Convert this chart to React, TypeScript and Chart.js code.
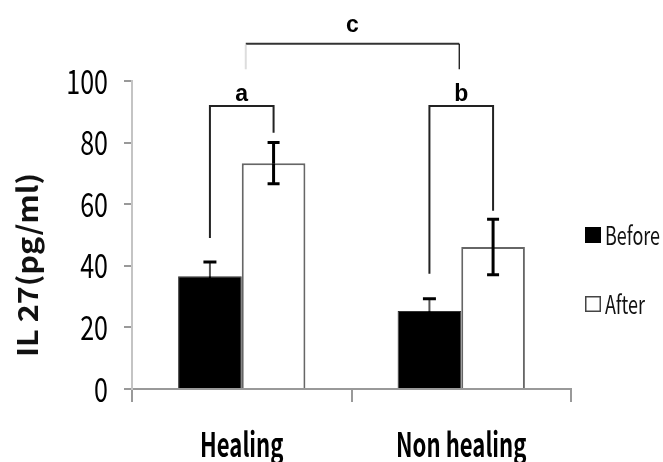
import React, { useEffect, useRef } from 'react';
import { Chart, registerables } from 'chart.js';
import { renderText } from 'chart.js/helpers';

Chart.register(...registerables);

// ---- data ----
const categories = ['Healing', 'Non healing'];
const seriesNames = ['Before', 'After'];
const beforeValues = [36.6, 25.3];
const afterValues = [73.3, 46.1];
const beforeErrors = [4.6, 4.0];
const afterErrors = [6.7, 9.0];
const yTicks = [0, 20, 40, 60, 80, 100];
const yTitle = 'IL 27(pg/ml)';
// significance brackets (a: Healing before vs after, b: Non healing before vs after, c: Healing vs Non healing)
const bracketLabels = ['a', 'b', 'c'];
const bracketLevels = [91.9, 91.9, 112.1];
const bracketLeftEnds = [49.0, 37.4, 103.8];
const bracketRightEnds = [83.2, 57.9, 103.8];
const bracketLabelLevels = [93.5, 93.5, 115.8];

const NARROW = '"Noto Sans CJK SC", "Liberation Sans", "DejaVu Sans Condensed", sans-serif';
const WIDE = '"Liberation Sans", "DejaVu Sans", sans-serif';

// draw the axis' own tick labels horizontally condensed (the original uses a narrow face)
const squeezeLabels = (axis: any, sx: number) => {
  if (axis.__squeezed) return;
  axis.__squeezed = true;
  axis.drawLabels = function (area: any) {
    if (!this.options.ticks.display) return;
    const ctx = this.ctx as CanvasRenderingContext2D;
    const items = this.getLabelItems(area);
    for (const item of items) {
      const opts = item.options;
      const [tx, ty] = opts.translation;
      ctx.save();
      ctx.translate(tx, ty);
      ctx.scale(sx, 1);
      renderText(ctx, item.label, 0, item.textOffset, item.font, { ...opts, translation: [0, 0] });
      ctx.restore();
    }
  };
};

const overlayPlugin = {
  id: 'overlay',
  afterDatasetsDraw(chart: any) {
    const ctx = chart.ctx as CanvasRenderingContext2D;
    const ys = chart.scales.y;
    const xs = chart.scales.x;
    const m0 = chart.getDatasetMeta(0);
    const m1 = chart.getDatasetMeta(1);

    const drawErr = (meta: any, values: number[], errs: number[], lineColor: string, lineW: number, capW: number) => {
      values.forEach((v, i) => {
        const el = meta.data[i];
        const x = el.x;
        const yTop = ys.getPixelForValue(v + errs[i]);
        const yMid = ys.getPixelForValue(v);
        const yBot = ys.getPixelForValue(v - errs[i]);
        ctx.save();
        ctx.lineWidth = lineW;
        ctx.strokeStyle = lineColor;
        ctx.beginPath();
        ctx.moveTo(x, yTop);
        ctx.lineTo(x, yMid);
        ctx.stroke();
        ctx.strokeStyle = '#000';
        ctx.beginPath();
        ctx.moveTo(x, yMid);
        ctx.lineTo(x, yBot);
        ctx.stroke();
        ctx.lineWidth = 3;
        ctx.beginPath();
        ctx.moveTo(x - capW / 2, yTop);
        ctx.lineTo(x + capW / 2, yTop);
        ctx.moveTo(x - capW / 2, yBot);
        ctx.lineTo(x + capW / 2, yBot);
        ctx.stroke();
        ctx.restore();
      });
    };
    drawErr(m0, beforeValues, beforeErrors, '#555', 2, 13);
    drawErr(m1, afterValues, afterErrors, '#000', 3, 12);

    // brackets
    const ends = [
      [m0.data[0].x, m1.data[0].x],
      [m0.data[1].x, m1.data[1].x],
      [xs.getPixelForValue(0) + 4, xs.getPixelForValue(1) - 2],
    ];
    bracketLabels.forEach((lab, i) => {
      const [xl, xr] = ends[i];
      const yl = ys.getPixelForValue(bracketLevels[i]);
      const yle = ys.getPixelForValue(bracketLeftEnds[i]);
      const yre = ys.getPixelForValue(bracketRightEnds[i]);
      ctx.save();
      ctx.lineCap = 'butt';
      if (i < 2) {
        ctx.strokeStyle = '#222';
        ctx.lineWidth = 2;
        ctx.beginPath();
        ctx.moveTo(xl, yle);
        ctx.lineTo(xl, yl);
        ctx.lineTo(xr, yl);
        ctx.lineTo(xr, yre);
        ctx.stroke();
      } else {
        ctx.strokeStyle = '#333';
        ctx.lineWidth = 2;
        ctx.beginPath();
        ctx.moveTo(xl, yl);
        ctx.lineTo(xr, yl);
        ctx.stroke();
        ctx.strokeStyle = '#ddd';
        ctx.lineWidth = 2;
        ctx.beginPath();
        ctx.moveTo(xl, yl + 1);
        ctx.lineTo(xl, yle);
        ctx.stroke();
        ctx.strokeStyle = '#000';
        ctx.lineWidth = 1.2;
        ctx.beginPath();
        ctx.moveTo(xr, yl);
        ctx.lineTo(xr, yre);
        ctx.stroke();
      }
      ctx.fillStyle = '#000';
      ctx.font = 'bold 23px ' + WIDE;
      ctx.textAlign = 'center';
      ctx.textBaseline = 'alphabetic';
      ctx.fillText(lab, (xl + xr) / 2, ys.getPixelForValue(bracketLabelLevels[i]));
      ctx.restore();
    });

    // y-axis title
    ctx.save();
    ctx.font = 'bold 28px ' + NARROW;
    const w = ctx.measureText(yTitle).width;
    ctx.translate(27, 265);
    ctx.rotate(-Math.PI / 2);
    ctx.scale(184 / w, 1);
    ctx.fillStyle = '#111';
    ctx.textAlign = 'center';
    ctx.textBaseline = 'middle';
    ctx.fillText(yTitle, 0, 0);
    ctx.restore();

    // legend
    const ds = chart.data.datasets;
    const legendY = [235, 304];
    ctx.save();
    ctx.font = '25px ' + NARROW;
    const lw = ctx.measureText(ds[0].label).width;
    const sx = 55 / lw;
    ds.forEach((d: any, i: number) => {
      const cy = legendY[i];
      ctx.fillStyle = d.backgroundColor;
      ctx.fillRect(585, cy - 8, 16, 16);
      ctx.strokeStyle = i === 0 ? '#000' : '#444';
      ctx.lineWidth = 1.5;
      ctx.strokeRect(585.75, cy - 7.25, 14.5, 14.5);
      ctx.save();
      ctx.translate(605, cy);
      ctx.scale(sx, 1);
      ctx.fillStyle = '#111';
      ctx.textAlign = 'left';
      ctx.textBaseline = 'middle';
      ctx.fillText(d.label, 0, 0);
      ctx.restore();
    });
    ctx.restore();
  },
};

export default function App() {
  const ref = useRef<HTMLCanvasElement | null>(null);
  useEffect(() => {
    if (!ref.current) return;
    const chart = new Chart(ref.current, {
      type: 'bar',
      data: {
        labels: categories,
        datasets: [
          {
            label: seriesNames[0],
            data: beforeValues,
            backgroundColor: '#000',
            borderColor: '#333',
            borderWidth: 1,
            categoryPercentage: 0.58,
            barPercentage: 1,
          },
          {
            label: seriesNames[1],
            data: afterValues,
            backgroundColor: '#fff',
            borderColor: '#666',
            borderWidth: 2,
            categoryPercentage: 0.58,
            barPercentage: 1,
          },
        ],
      },
      options: {
        responsive: false,
        animation: false,
        devicePixelRatio: 1,
        layout: { padding: { left: 0, right: 92, top: 81, bottom: 0 } },
        plugins: {
          legend: { display: false },
          tooltip: { enabled: false },
        },
        scales: {
          x: {
            grid: {
              offset: true,
              drawOnChartArea: false,
              drawTicks: true,
              tickLength: 13,
              color: '#999',
              lineWidth: 2,
            },
            border: { color: '#999', width: 2 },
            ticks: {
              color: '#000',
              font: { family: NARROW, size: 33, weight: 'bold' },
              padding: 23,
              maxRotation: 0,
              autoSkip: false,
            },
            afterFit: (axis: any) => {
              axis.height = 73;
              squeezeLabels(axis, 0.67);
            },
          },
          y: {
            min: 0,
            max: 100,
            afterBuildTicks: (axis: any) => {
              axis.ticks = yTicks.map((v) => ({ value: v }));
            },
            grid: {
              drawOnChartArea: false,
              drawTicks: true,
              tickLength: 8,
              color: '#999',
              lineWidth: 2,
            },
            border: { color: '#c4c4c4', width: 2 },
            ticks: {
              color: '#000',
              font: { family: NARROW, size: 33 },
              padding: 16,
            },
            afterFit: (axis: any) => {
              axis.width = 132;
              squeezeLabels(axis, 0.76);
            },
          },
        },
      },
      plugins: [overlayPlugin],
    });
    return () => chart.destroy();
  }, []);
  return (
    <div style={{ position: 'fixed', left: 0, top: 0, width: 663, height: 462, background: '#fff' }}>
      <canvas ref={ref} width={663} height={462} style={{ display: 'block', width: 663, height: 462 }} />
    </div>
  );
}
